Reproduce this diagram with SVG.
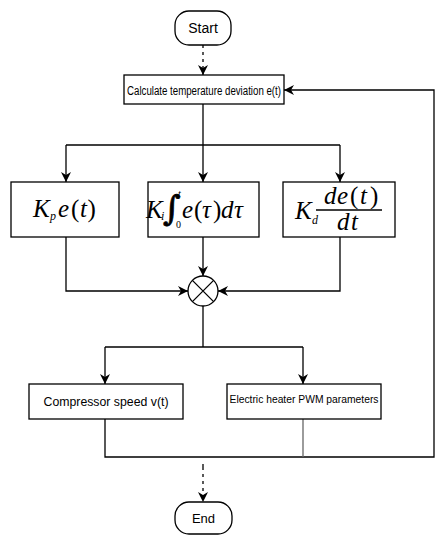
<svg xmlns="http://www.w3.org/2000/svg" width="441" height="543" viewBox="0 0 441 543">
<style>
.box{fill:#fff;stroke:#000;stroke-width:1.3}
.ln{fill:none;stroke:#000;stroke-width:1.3}
.dash{fill:none;stroke:#000;stroke-width:1.3;stroke-dasharray:3 4}
.lbl{font-family:"Liberation Sans",Arial,sans-serif;fill:#000}
.m{font-family:"Liberation Serif","Times New Roman",serif;fill:#000;font-size:25px}
.i{font-style:italic}
.s{font-size:12px}
.xs{font-size:10px}
</style>
<defs>
<marker id="ah" viewBox="0 0 10 10" refX="10" refY="5" markerWidth="10" markerHeight="10" markerUnits="userSpaceOnUse" orient="auto">
<path d="M0,0 L10,5 L0,10 L3,5 Z" fill="#000"/>
</marker>
</defs>
<rect width="441" height="543" fill="#fff"/>
<g id="connectors">
<path class="dash" d="M203,45 V75" marker-end="url(#ah)"/>
<path class="ln" d="M203,104 V145"/>
<path class="ln" d="M66,145 H340"/>
<path class="ln" d="M66,145 V182" marker-end="url(#ah)"/>
<path class="ln" d="M203,145 V182" marker-end="url(#ah)"/>
<path class="ln" d="M340,145 V182" marker-end="url(#ah)"/>
<path class="ln" d="M66,237 V291 H188" marker-end="url(#ah)"/>
<path class="ln" d="M203,237 V276" marker-end="url(#ah)"/>
<path class="ln" d="M340,237 V291 H218" marker-end="url(#ah)"/>
<path class="ln" d="M203,306 V347"/>
<path class="ln" d="M105,347 H303"/>
<path class="ln" d="M105,347 V384" marker-end="url(#ah)"/>
<path class="ln" d="M303,347 V384" marker-end="url(#ah)"/>
<path class="ln" d="M105,419 V457 H434 V90 H284" marker-end="url(#ah)"/>
<path d="M303,419 V457" fill="none" stroke="#666" stroke-width="1.3"/>
<path class="ln" d="M203,464 V470"/>
<path class="dash" d="M203,474 V502" marker-end="url(#ah)"/>
</g>
<g id="start">
<rect class="box" x="175" y="11" width="56" height="34" rx="14"/>
<text class="lbl" x="203" y="33" font-size="14" text-anchor="middle">Start</text>
</g>
<g id="calc">
<rect class="box" x="124" y="75" width="160" height="29"/>
<text class="lbl" x="204" y="95" font-size="12.5" text-anchor="middle" textLength="154" lengthAdjust="spacingAndGlyphs">Calculate temperature deviation e(t)</text>
</g>
<g id="kp">
<rect class="box" x="11" y="182" width="108" height="55"/>
<text class="m" y="217"><tspan class="i" x="33">K</tspan><tspan class="i s" x="50" y="220">p</tspan><tspan class="i" x="58" y="217">e</tspan><tspan x="71">(</tspan><tspan class="i" x="80">t</tspan><tspan x="87.5">)</tspan></text>
</g>
<g id="ki">
<rect class="box" x="148" y="182" width="111" height="55"/>
<text class="m" y="218"><tspan class="i" x="146">K</tspan><tspan class="i s" x="161" y="220">i</tspan></text>
<text x="163" y="220" style="font-family:'DejaVu Serif',serif;font-size:34px" fill="#000" stroke="#000" stroke-width="0.8">∫</text>
<text class="m i xs" x="178" y="197">t</text>
<text class="m xs" x="176" y="228">0</text>
<text class="m" y="218"><tspan class="i" x="182">e</tspan><tspan x="194">(</tspan><tspan class="i" x="202">τ</tspan><tspan x="213">)</tspan><tspan class="i" x="221">d</tspan><tspan class="i" x="234">τ</tspan></text>
</g>
<g id="kd">
<rect class="box" x="283" y="182" width="112" height="55"/>
<text class="m" y="219"><tspan class="i" x="295">K</tspan><tspan class="i s" x="312" y="224">d</tspan></text>
<text class="m" y="204"><tspan class="i" x="324">d</tspan><tspan class="i" x="337">e</tspan><tspan x="350">(</tspan><tspan class="i" x="360">t</tspan><tspan x="370">)</tspan></text>
<path class="ln" d="M316,210 H382"/>
<text class="m" y="230"><tspan class="i" x="337">d</tspan><tspan class="i" x="351">t</tspan></text>
</g>
<g id="sum">
<circle cx="203" cy="291" r="15" fill="#fff" stroke="#000" stroke-width="1.3"/>
<path class="ln" d="M192.4,280.4 L213.6,301.6 M213.6,280.4 L192.4,301.6"/>
</g>
<g id="compressor">
<rect class="box" x="29" y="384" width="154" height="35"/>
<text class="lbl" x="106" y="406" font-size="12" text-anchor="middle" textLength="125" lengthAdjust="spacingAndGlyphs">Compressor speed v(t)</text>
</g>
<g id="heater">
<rect class="box" x="227" y="384" width="154" height="35"/>
<text class="lbl" x="304" y="403" font-size="10" text-anchor="middle" textLength="149" lengthAdjust="spacingAndGlyphs">Electric heater PWM parameters</text>
</g>
<g id="end">
<rect class="box" x="175" y="502" width="57" height="32" rx="14"/>
<text class="lbl" x="203.5" y="523" font-size="13" text-anchor="middle">End</text>
</g>
</svg>
